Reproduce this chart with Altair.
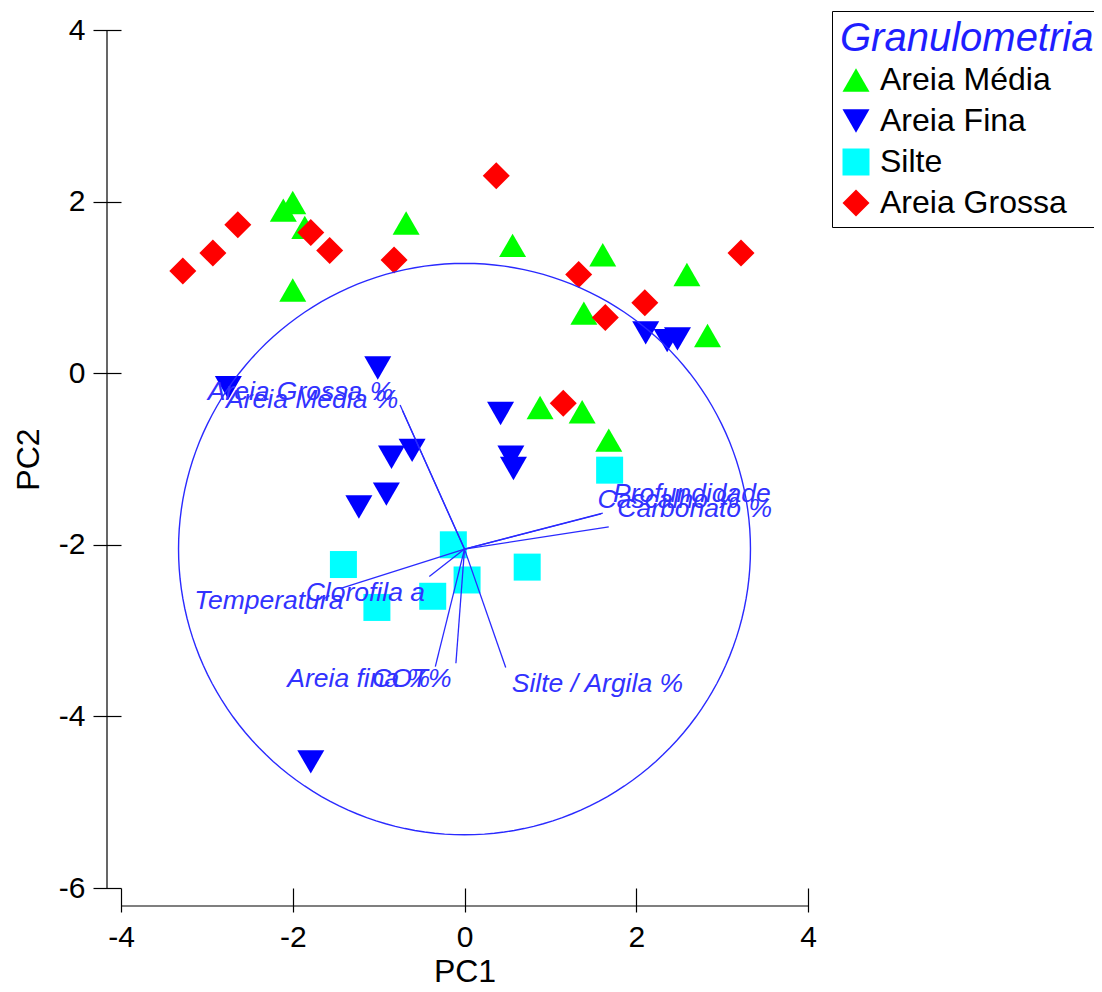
import altair as alt
import pandas as pd

# ---- sample scores ----
media_x = [-2.11, -2.00, -1.86, -2.00, -0.68, 0.56, 1.61, 2.59, 1.39, 2.83, 0.88, 1.37, 1.68]
media_y = [1.90, 1.99, 1.70, 0.97, 1.75, 1.49, 1.38, 1.15, 0.70, 0.44, -0.40, -0.45, -0.78]
fina_x = [-2.75, -1.01, -0.61, -0.85, -0.91, -1.23, 2.11, 2.36, 2.48, 0.42, 0.54, 0.57, -1.79]
fina_y = [-0.17, 0.06, -0.90, -0.98, -1.41, -1.56, 0.47, 0.38, 0.40, -0.47, -0.98, -1.11, -4.53]
silte_x = [1.69, -1.41, -1.02, -0.37, -0.13, 0.03, 0.73]
silte_y = [-1.13, -2.23, -2.73, -2.60, -2.00, -2.41, -2.26]
grossa_x = [-3.28, -2.93, -2.64, -1.79, -1.57, -0.82, 0.37, 1.33, 3.22, 2.10, 1.64, 1.15]
grossa_y = [1.19, 1.40, 1.73, 1.64, 1.43, 1.32, 2.30, 1.15, 1.40, 0.82, 0.65, -0.35]

groups = ["Areia Média", "Areia Fina", "Silte", "Areia Grossa"]
group_colors = ["#00ff00", "#0000ff", "#00ffff", "#ff0000"]
group_shapes = ["triangle-up", "triangle-down", "square", "diamond"]
group_sizes = [729, 729, 484, 625]

# ---- variable vectors ----
vec_names = ["Areia Grossa %", "Areia Média %", "Profundidade", "Cascalho %", "Carbonato %",
             "Temperatura", "Clorofila a", "Areia fina %", "COT%", "Silte / Argila %"]
vec_x = [-0.75, -0.72, 1.61, 1.59, 1.68, -1.45, -0.41, -0.34, -0.10, 0.48]
vec_y = [-0.37, -0.44, -1.63, -1.64, -1.79, -2.51, -2.37, -3.42, -3.38, -3.43]
lab_x = [-0.83, -0.77, 1.73, 1.55, 1.78, -1.41, -0.46, -0.40, -0.15, 0.55]
lab_y = [-0.31, -0.41, -1.50, -1.57, -1.68, -2.75, -2.65, -3.66, -3.66, -3.72]
lab_side = ["right", "right", "left", "left", "left", "right", "right", "right", "right", "left"]

origin_x, origin_y = 0.0, -2.05
circle_r = 3.33

x_ticks = [-4, -2, 0, 2, 4]
y_ticks = [4, 2, 0, -2, -4, -6]

# ---- tables ----
pts = pd.DataFrame({
    "x": media_x + fina_x + silte_x + grossa_x,
    "y": media_y + fina_y + silte_y + grossa_y,
    "g": [groups[0]] * len(media_x) + [groups[1]] * len(fina_x)
         + [groups[2]] * len(silte_x) + [groups[3]] * len(grossa_x),
})
vec = pd.DataFrame({"name": vec_names, "x": vec_x, "y": vec_y,
                    "x0": [origin_x] * len(vec_x), "y0": [origin_y] * len(vec_x),
                    "lx": lab_x, "ly": lab_y, "side": lab_side})
one = pd.DataFrame({"k": [0]})

W, H = 687, 858
XS = alt.Scale(domain=[-4, 4], nice=False, zero=False)
YS = alt.Scale(domain=[-6, 4], nice=False, zero=False)
BLUE = "#2a2aff"
TXT = "#3232ff"
FONT = "Liberation Sans"

legend = alt.Legend(
    title="Granulometria", orient="none", legendX=711, legendY=-19, direction="vertical",
    titleFontSize=40, titleFontStyle="italic", titleFontWeight="normal", titleColor="#1e1eff",
    titleFont=FONT, titleLimit=500, titlePadding=5,
    labelFontSize=32, labelFont=FONT, labelColor="black", labelLimit=500, labelOffset=8,
    strokeColor="black", fillColor="white", padding=8, rowPadding=9,
    symbolOpacity=1, symbolStrokeWidth=0,
)

x_axis = alt.Axis(
    values=x_ticks, title="PC1", domain=False, grid=False, tickSize=24, tickColor="black",
    tickWidth=1.2, labelFontSize=30, labelFont=FONT, labelColor="black", labelPadding=10,
    labelExpr="datum.value + ''",
    titleFontSize=32, titleFont=FONT, titleFontWeight="normal", titleColor="black",
    titlePadding=4, labelFlush=False)
y_axis = alt.Axis(
    values=y_ticks, title="PC2", domain=False, grid=False, tickSize=28, tickColor="black",
    tickWidth=1.2, labelFontSize=30, labelFont=FONT, labelColor="black", labelPadding=8,
    labelExpr="datum.value + ''",
    titleFontSize=32, titleFont=FONT, titleFontWeight="normal", titleColor="black",
    titlePadding=13, labelFlush=False)

points = alt.Chart(pts).mark_point(filled=True, opacity=1, strokeWidth=0).encode(
    x=alt.X("x:Q", scale=XS, axis=x_axis),
    y=alt.Y("y:Q", scale=YS, axis=y_axis),
    color=alt.Color("g:N", scale=alt.Scale(domain=groups, range=group_colors), legend=legend),
    shape=alt.Shape("g:N", scale=alt.Scale(domain=groups, range=group_shapes), legend=legend),
    size=alt.Size("g:N", scale=alt.Scale(domain=groups, range=group_sizes), legend=legend),
)

circle = (
    alt.Chart(alt.sequence(0, 362, 2, as_="deg"))
    .transform_calculate(
        cx=f"{origin_x} + {circle_r} * cos(datum.deg * PI / 180)",
        cy=f"{origin_y} + {circle_r} * sin(datum.deg * PI / 180)",
    )
    .mark_line(color=BLUE, strokeWidth=1.4)
    .encode(x=alt.X("cx:Q", scale=XS, axis=x_axis),
            y=alt.Y("cy:Q", scale=YS, axis=y_axis),
            order="deg:Q")
)

vectors = alt.Chart(vec).mark_rule(color=BLUE, strokeWidth=1.3).encode(
    x=alt.X("x0:Q", scale=XS, axis=x_axis), y=alt.Y("y0:Q", scale=YS, axis=y_axis),
    x2="x:Q", y2="y:Q",
)

def labels(side):
    return alt.Chart(vec).transform_filter(alt.datum.side == side).mark_text(
        align=side, baseline="alphabetic", fontStyle="italic", fontSize=26.5,
        font=FONT, color=TXT,
    ).encode(
        x=alt.X("lx:Q", scale=XS, axis=x_axis), y=alt.Y("ly:Q", scale=YS, axis=y_axis),
        text="name:N",
    )

# axis lines (offset from the plot edge as in the reference)
y_line = alt.Chart(one).mark_rule(color="black", strokeWidth=1.2).encode(
    x=alt.value(-14), y=alt.datum(y_ticks[0], scale=YS, axis=y_axis), y2=alt.datum(y_ticks[-1]))
x_line = alt.Chart(one).mark_rule(color="black", strokeWidth=1.2).encode(
    y=alt.value(H + 18), x=alt.datum(x_ticks[0], scale=XS, axis=x_axis), x2=alt.datum(x_ticks[-1]))

chart = alt.layer(points, circle, vectors, labels("right"), labels("left"), y_line, x_line).properties(
    width=W, height=H,
    padding={"left": 113, "top": 22, "right": 286, "bottom": 96},
    autosize=alt.AutoSizeParams(type="none"),
    background="white",
).configure(font=FONT).configure_view(stroke=None)

chart.save("out.html", embed_options={"renderer": "svg", "actions": False})
